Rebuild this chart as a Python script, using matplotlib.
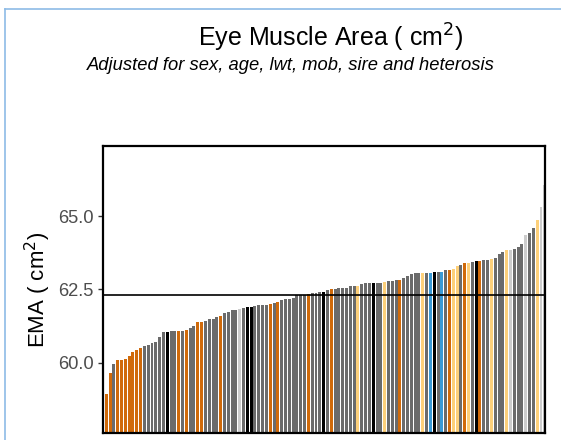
import matplotlib.pyplot as plt
from matplotlib.lines import Line2D

plt.rcParams['font.family'] = ['Liberation Sans', 'DejaVu Sans']

# sorted adjusted EMA per sire (cm^2)
ema = [58.37, 58.93, 59.64, 59.96, 60.10, 60.10, 60.11, 60.23, 60.36, 60.44,
       60.50, 60.58, 60.59, 60.67, 60.72, 60.86, 61.03, 61.06, 61.07, 61.08,
       61.08, 61.09, 61.10, 61.17, 61.25, 61.37, 61.40, 61.43, 61.48, 61.49,
       61.55, 61.59, 61.69, 61.74, 61.80, 61.81, 61.82, 61.85, 61.89, 61.91,
       61.94, 61.95, 61.95, 61.96, 61.99, 62.03, 62.08, 62.14, 62.16, 62.18,
       62.20, 62.29, 62.31, 62.32, 62.34, 62.37, 62.37, 62.40, 62.42, 62.48,
       62.50, 62.50, 62.54, 62.54, 62.55, 62.60, 62.60, 62.61, 62.69, 62.71,
       62.71, 62.71, 62.72, 62.73, 62.75, 62.80, 62.80, 62.82, 62.83, 62.90,
       62.97, 63.02, 63.04, 63.05, 63.05, 63.05, 63.06, 63.10, 63.10, 63.10,
       63.16, 63.16, 63.18, 63.30, 63.32, 63.39, 63.40, 63.44, 63.47, 63.47,
       63.50, 63.51, 63.55, 63.57, 63.70, 63.79, 63.83, 63.85, 63.86, 63.94,
       64.05, 64.36, 64.42, 64.60, 64.85, 65.32, 66.06]

# group of each bar: G grey, O orange, Y light orange, L light grey, K black, B blue
group = list("GOOGOOOOOOOGGGGGGKGGOGOGGOOGGGGOGGGGLGKKGGGGOGOGGGGGGGOGGGKGOGGGGGGYGGGKGGY"
             "GGGOGGGGGYGBKGBGOYYGOYGKOGGYGGGYLGGGLGGYLL")

mean_ema = 62.30
y_ticks = [60.0, 62.5, 65.0]
y_tick_labels = ['60.0', '62.5', '65.0']

palette = {'G': '#6b6b6b', 'O': '#d06a0a', 'Y': '#fdd07a', 'L': '#cccccc',
           'K': '#000000', 'B': '#3a9ad6'}

fig = plt.figure(figsize=(5.61, 4.40), dpi=100)
ax = fig.add_axes([0.1836, 0.0152, 0.7879, 0.6538])

x = list(range(len(ema)))
ax.bar(x, ema, width=0.78, color=[palette[g] for g in group], linewidth=0)
ax.axhline(mean_ema, color='black', linewidth=1.2)

ax.set_xlim(0.15, 116.05)
ax.set_ylim(57.59, 67.40)
ax.set_xticks([])
ax.set_yticks(y_ticks)
ax.set_yticklabels(y_tick_labels, fontsize=13.2, color='#4d4d4d')
ax.tick_params(axis='y', length=3.5, width=1, color='#333333', pad=3)
for s in ax.spines.values():
    s.set_linewidth(1.6)
    s.set_color('black')

ax.set_ylabel('EMA ( cm$^2$)', fontsize=16, labelpad=4)

fig.text(0.59, 0.913, 'Eye Muscle Area ( cm$^2$)', fontsize=18, ha='center', va='center')
fig.text(0.519, 0.852, 'Adjusted for sex, age, lwt, mob, sire and heterosis',
         fontsize=13.2, style='italic', ha='center', va='center')

# light blue frame edges of the original panel
fig.add_artist(Line2D([5 / 561, 5 / 561], [0, 1 - 9 / 440], color='#8dbbe6', linewidth=1.2))
fig.add_artist(Line2D([5 / 561, 1], [1 - 9 / 440, 1 - 9 / 440], color='#8dbbe6', linewidth=1.2))

fig.savefig('out.png', dpi=100)
